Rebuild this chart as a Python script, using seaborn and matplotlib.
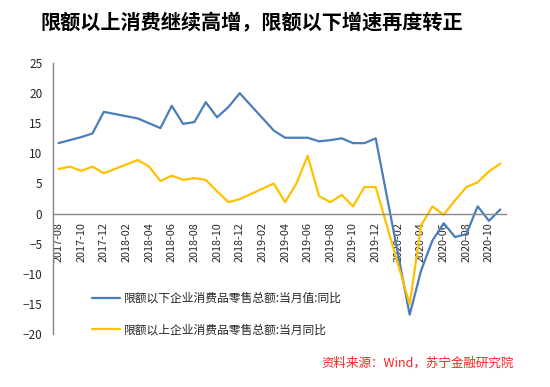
import numpy as np
import pandas as pd
import seaborn as sns
import matplotlib.pyplot as plt

months = ['2017-08', '2017-09', '2017-10', '2017-11', '2017-12',
          '2018-01', '2018-02', '2018-03', '2018-04', '2018-05', '2018-06',
          '2018-07', '2018-08', '2018-09', '2018-10', '2018-11', '2018-12',
          '2019-01', '2019-02', '2019-03', '2019-04', '2019-05', '2019-06',
          '2019-07', '2019-08', '2019-09', '2019-10', '2019-11', '2019-12',
          '2020-01', '2020-02', '2020-03', '2020-04', '2020-05', '2020-06',
          '2020-07', '2020-08', '2020-09', '2020-10', '2020-11']

nan = np.nan
below_limit = [11.7, 12.2, 12.7, 13.3, 16.9,
               nan, nan, 15.8, 15.0, 14.2, 17.9,
               14.9, 15.2, 18.5, 16.0, 17.7, 20.0,
               nan, nan, 13.8, 12.6, 12.6, 12.6,
               12.0, 12.2, 12.5, 11.7, 11.7, 12.5,
               nan, nan, -16.8, -9.5, -4.5, -1.6,
               -3.9, -3.4, 1.2, -1.2, 0.7]
above_limit = [7.4, 7.8, 7.1, 7.8, 6.7,
               nan, nan, 8.9, 7.8, 5.4, 6.3,
               5.6, 5.9, 5.6, 3.7, 1.9, 2.4,
               nan, nan, 5.0, 1.9, 5.0, 9.6,
               2.9, 1.9, 3.1, 1.2, 4.4, 4.4,
               nan, nan, -15.1, -2.0, 1.2, -0.2,
               2.2, 4.4, 5.2, 7.0, 8.3]

name_below = '限额以下企业消费品零售总额:当月值:同比'
name_above = '限额以上企业消费品零售总额:当月同比'

df = pd.DataFrame({'idx': range(len(months)), name_below: below_limit, name_above: above_limit})
long_df = df.melt(id_vars='idx', var_name='series', value_name='value').dropna()

sns.set_style('white')
plt.rcParams['font.family'] = ['Noto Sans CJK SC', 'DejaVu Sans']

fig = plt.figure(figsize=(5.5, 3.87), dpi=100)
ax = fig.add_axes([0.096, 0.137, 0.824, 0.700])

sns.lineplot(data=long_df, x='idx', y='value', hue='series',
             hue_order=[name_below, name_above],
             palette=['#4A7EBB', '#FFC000'], linewidth=1.6, ax=ax)

ax.set_xlim(-0.5, len(months) - 0.5)
ax.set_ylim(-20, 25)
ax.set_yticks(range(-20, 26, 5))
ax.set_xlabel('')
ax.set_ylabel('')

# x axis sits at zero, ticks between categories, labels at category centres
ax.spines['bottom'].set_position(('data', 0))
for s in ['top', 'right']:
    ax.spines[s].set_visible(False)
for s in ['left', 'bottom']:
    ax.spines[s].set_color('#888888')
    ax.spines[s].set_linewidth(1.0)

ax.set_xticks(np.arange(-0.5, len(months), 2))
ax.set_xticklabels([])
ax.set_xticks(range(0, len(months), 2), minor=True)
ax.set_xticklabels(months[::2], minor=True, rotation=90, fontsize=7.8)
ax.tick_params(axis='x', which='major', direction='out', length=4, color='#888888')
ax.tick_params(axis='x', which='minor', length=0, pad=6)
ax.tick_params(axis='y', direction='out', length=4, color='#888888', labelsize=8.5)

ax.legend(loc='upper left', bbox_to_anchor=(0.063, 0.195), frameon=False,
          fontsize=8.5, handlelength=2.4, handletextpad=0.3, labelspacing=1.55)

fig.text(0.457, 0.94, '限额以上消费继续高增，限额以下增速再度转正',
         ha='center', va='center', fontsize=14.5, fontweight='bold', color='black')
fig.text(0.585, 0.062, '资料来源：Wind，苏宁金融研究院', ha='left', va='center',
         fontsize=9, style='italic', color='#FF2020')

fig.savefig('out.png', dpi=100)
